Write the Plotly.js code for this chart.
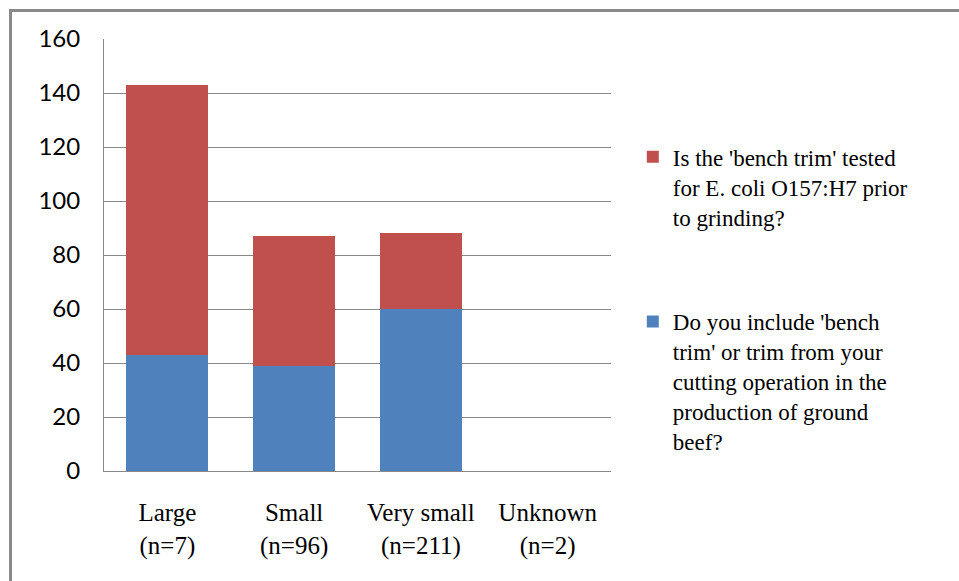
<!DOCTYPE html>
<html>
<head>
<meta charset="utf-8">
<script src="https://cdn.plot.ly/plotly-3.0.1.min.js"></script>
<style>
  html, body { margin: 0; padding: 0; background: #fff; }
  #wrap { position: relative; width: 959px; height: 581px; overflow: hidden; }
  #chart { position: absolute; left: 0; top: 0; width: 959px; height: 581px; }
  #frame { position: absolute; left: 9px; top: 9px; width: 1000px; height: 700px;
           border-left: 3px solid #8a8a8a; border-top: 3px solid #8a8a8a; pointer-events: none; }
</style>
</head>
<body>
<div id="wrap">
  <div id="chart"></div>
  <div id="frame"></div>
</div>
<script>
// Plant size categories (with number of respondents)
const categories = ["Large<br>(n=7)", "Small<br>(n=96)", "Very small<br>(n=211)", "Unknown<br>(n=2)"];
// Respondents including bench trim in ground beef
const includeTrim = [43, 39, 60, 0];
// Respondents testing bench trim for E. coli O157:H7
const testedTrim = [100, 48, 28, 0];
const yTicks = [0, 20, 40, 60, 80, 100, 120, 140, 160];

const includeName = "Do you include 'bench<br>trim' or trim from your<br>cutting operation in the<br>production of ground<br>beef?";
const testedName = "Is the 'bench trim' tested<br>for E. coli O157:H7 prior<br>to grinding?";

const serif = "Liberation Serif";

const traces = [
  { type: "bar", x: categories, y: includeTrim, name: includeName,
    marker: { color: "#4F81BD" }, legendgroup: "a", legendrank: 2, hoverinfo: "y" },
  { type: "bar", x: categories, y: testedTrim, name: testedName,
    marker: { color: "#C0504D" }, legendgroup: "b", legendrank: 1, hoverinfo: "y" }
];

const layout = {
  width: 959, height: 581,
  margin: { l: 104, r: 348, t: 39, b: 110, pad: 0 },
  paper_bgcolor: "#fff", plot_bgcolor: "#fff",
  font: { family: serif, size: 23, color: "#000" },
  barmode: "stack",
  bargap: 0.353,
  showlegend: true,
  legend: {
    x: 1.043, xanchor: "left", y: 0.777, yanchor: "top",
    traceorder: "grouped", tracegroupgap: 72,
    valign: "top", itemwidth: 30,
    font: { family: serif, size: 23, color: "#000" }
  },
  xaxis: {
    showline: true, linecolor: "#888", linewidth: 1,
    showgrid: false, ticks: "", ticklabelstandoff: 19,
    tickfont: { family: serif, size: 25, color: "#000" },
    fixedrange: true
  },
  yaxis: {
    range: [0, 160], tickvals: yTicks, ticktext: yTicks.map(String),
    showline: true, linecolor: "#888", linewidth: 1,
    showgrid: true, gridcolor: "#888", gridwidth: 1,
    zeroline: false, ticks: "", ticklabelstandoff: 18,
    tickfont: { family: "Lato, Carlito, Calibri, sans-serif", size: 24, color: "#000" },
    fixedrange: true
  }
};

Plotly.newPlot("chart", traces, layout, { displayModeBar: false, staticPlot: true });
</script>
</body>
</html>
